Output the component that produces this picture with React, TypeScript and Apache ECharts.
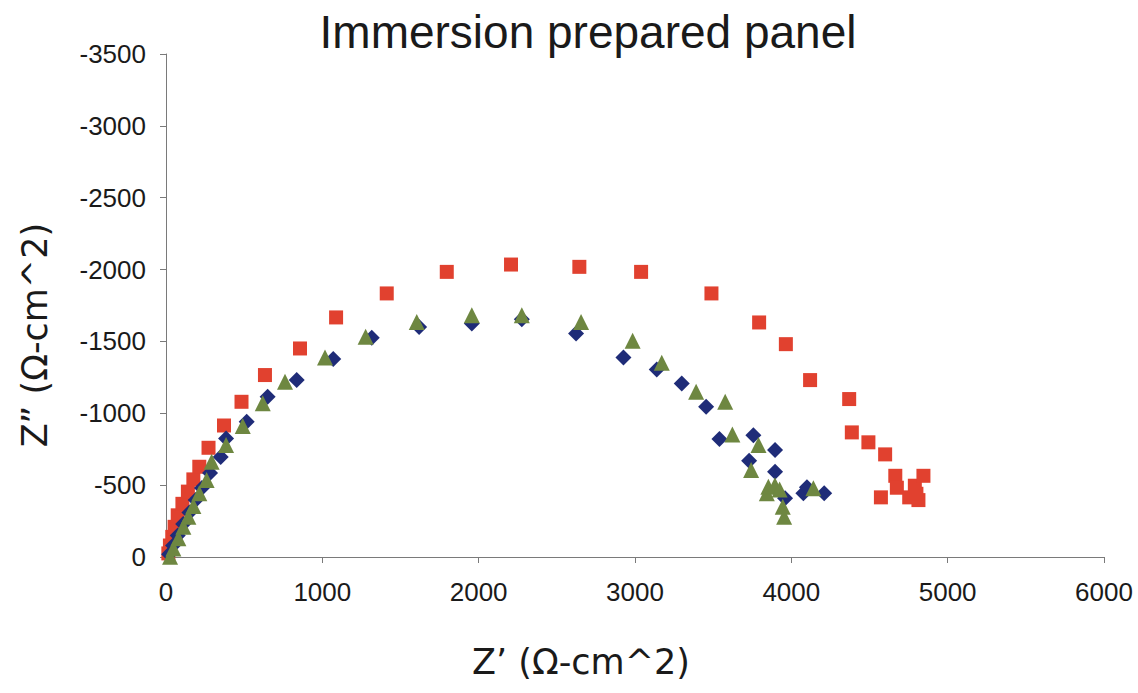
import React, { useEffect, useRef } from "react";
import * as echarts from "echarts";

// Nyquist data: [Z' (real), Z'' (imaginary)] in Ω-cm^2
const seriesNames = ["Panel A", "Panel B", "Panel C"];

const panelA: number[][] = [
  [15, -25], [25, -80], [40, -140], [55, -210], [75, -290], [105, -370], [140, -455],
  [175, -540], [213, -628], [272, -760], [371, -915], [483, -1080], [633, -1266],
  [857, -1451], [1088, -1667], [1412, -1834], [1796, -1984], [2207, -2035],
  [2644, -2019], [3039, -1984], [3489, -1834], [3794, -1632], [3965, -1481],
  [4120, -1231], [4370, -1099], [4387, -867], [4493, -798], [4600, -714],
  [4665, -565], [4675, -482], [4573, -415], [4754, -415], [4790, -496],
  [4813, -396], [4845, -565], [4800, -440],
];

const panelB: number[][] = [
  [20, -20], [45, -80], [75, -150], [110, -230], [150, -310], [190, -396],
  [230, -480], [282, -584], [350, -695], [384, -825], [516, -941], [650, -1115],
  [836, -1231], [1070, -1377], [1316, -1525], [1619, -1601], [1956, -1625],
  [2276, -1655], [2623, -1555], [2926, -1389], [3139, -1305], [3299, -1208],
  [3455, -1045], [3540, -821], [3757, -848], [3896, -744], [3730, -670],
  [3896, -593], [3960, -408], [4077, -443], [4100, -485], [4210, -443],
];

const panelC: number[][] = [
  [26, -2], [47, -60], [79, -130], [111, -211], [143, -280], [175, -355],
  [213, -443], [260, -535], [292, -663], [384, -779], [491, -911], [619, -1069],
  [761, -1219], [1017, -1389], [1277, -1532], [1604, -1636], [1956, -1683],
  [2276, -1683], [2655, -1636], [2985, -1504], [3171, -1351], [3391, -1149],
  [3577, -1080], [3623, -853], [3790, -779], [3743, -605], [3843, -443],
  [3853, -489], [3895, -500], [3925, -470], [3945, -350], [3954, -280],
  [4141, -478],
];

const xTicks = { min: 0, max: 6000, interval: 1000 };
const yTicks = { min: -3500, max: 0, interval: 500 };

const axisGray = "#7a7a7a";
const tickFont = "'Liberation Sans', Arial, sans-serif";
const plain = (v: number) => String(v);

export default function App() {
  const ref = useRef<HTMLDivElement>(null);

  useEffect(() => {
    if (!ref.current) return;
    const chart = echarts.init(ref.current, undefined, { renderer: "svg" });
    chart.setOption({
      animation: false,
      backgroundColor: "#ffffff",
      grid: { left: 166, right: 34, top: 54, bottom: 136 },
      xAxis: {
        type: "value",
        min: xTicks.min,
        max: xTicks.max,
        interval: xTicks.interval,
        axisLine: { show: true, lineStyle: { color: axisGray, width: 1 } },
        axisTick: { show: true, length: 6, lineStyle: { color: axisGray } },
        axisLabel: { color: "#1a1a1a", fontFamily: tickFont, fontSize: 26, margin: 22, formatter: plain },
        splitLine: { show: false },
      },
      yAxis: {
        type: "value",
        inverse: true,
        min: yTicks.min,
        max: yTicks.max,
        interval: yTicks.interval,
        axisLine: { show: true, onZero: false, lineStyle: { color: axisGray, width: 1 } },
        axisTick: { show: true, length: 6, lineStyle: { color: axisGray } },
        axisLabel: { color: "#1a1a1a", fontFamily: tickFont, fontSize: 26, margin: 20, formatter: plain },
        splitLine: { show: false },
      },
      graphic: [
        {
          type: "text",
          x: 588,
          y: 32,
          style: {
            text: "Immersion prepared panel",
            font: "46px 'Liberation Sans', Arial, sans-serif",
            fill: "#1a1a1a",
            textAlign: "center",
            textVerticalAlign: "middle",
          },
        },
        {
          type: "text",
          x: 581,
          y: 662,
          style: {
            text: "Z\u2019 (\u03A9-cm^2)",
            font: "35px 'DejaVu Sans', sans-serif",
            fill: "#1a1a1a",
            textAlign: "center",
            textVerticalAlign: "middle",
          },
        },
        {
          type: "text",
          x: 35,
          y: 335,
          rotation: Math.PI / 2,
          style: {
            text: "Z\u201D (\u03A9-cm^2)",
            font: "35px 'DejaVu Sans', sans-serif",
            fill: "#1a1a1a",
            textAlign: "center",
            textVerticalAlign: "middle",
          },
        },
      ],
      series: [
        {
          name: seriesNames[0],
          type: "scatter",
          data: panelA,
          symbol: "rect",
          symbolSize: 14,
          itemStyle: { color: "#e1412f", opacity: 1 },
        },
        {
          name: seriesNames[1],
          type: "scatter",
          data: panelB,
          symbol: "diamond",
          symbolSize: 16,
          itemStyle: { color: "#1f2c78", opacity: 1 },
        },
        {
          name: seriesNames[2],
          type: "scatter",
          data: panelC,
          symbol: "triangle",
          symbolSize: [16, 16],
          itemStyle: { color: "#6e8741", opacity: 1 },
        },
      ],
    });
    return () => chart.dispose();
  }, []);

  return (
    <div
      ref={ref}
      style={{ position: "fixed", left: 0, top: 0, width: 1138, height: 693, background: "#fff" }}
    />
  );
}
